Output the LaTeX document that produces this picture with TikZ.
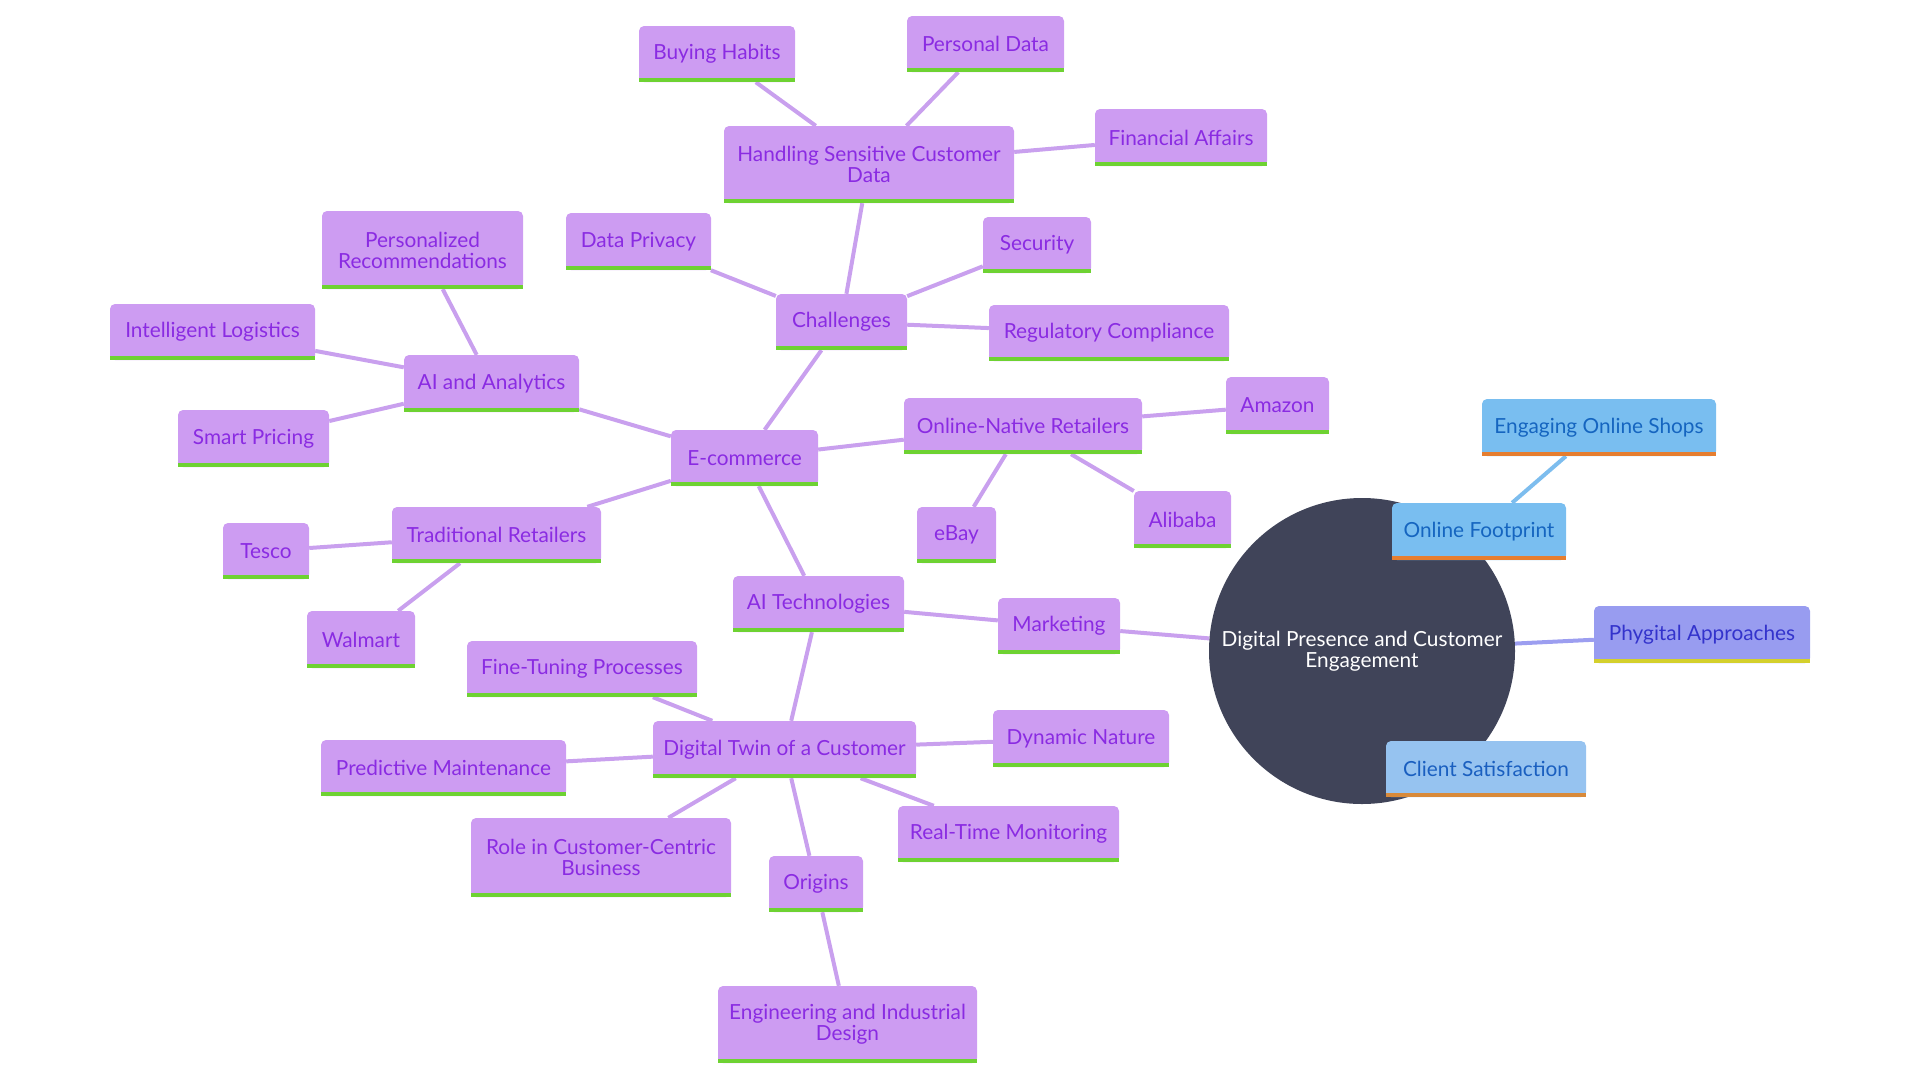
\documentclass[tikz,border=0pt]{standalone}
\usepackage{fontspec}
\setmainfont{Lato}
\usetikzlibrary{backgrounds}
\definecolor{pfill}{HTML}{CD9CF2}
\definecolor{ptext}{HTML}{8A2BE2}
\definecolor{pbar}{HTML}{6ED232}
\definecolor{pedge}{HTML}{C9A0EE}
\definecolor{bfill}{HTML}{79BEF0}
\definecolor{btext}{HTML}{1565C0}
\definecolor{bbar}{HTML}{E67E2F}
\definecolor{bedge}{HTML}{7DBDEE}
\definecolor{vfill}{HTML}{989CF0}
\definecolor{vtext}{HTML}{3333CC}
\definecolor{vbar}{HTML}{D4D02C}
\definecolor{vedge}{HTML}{9C9EF0}
\definecolor{cfill}{HTML}{96C3F0}
\definecolor{ctext}{HTML}{1A5FC0}
\definecolor{cbar}{HTML}{D88A3A}
\definecolor{rootfill}{HTML}{404459}
\tikzset{
  nb/.style n args={3}{rectangle, inner sep=0pt, align=center, text=#3,
    font=\fontsize{20.8}{21}\selectfont,
    path picture={
      \fill[#1, rounded corners=5pt] (path picture bounding box.south west) rectangle (path picture bounding box.north east);
      \fill[#1] (path picture bounding box.south west) rectangle ([yshift=-10pt]path picture bounding box.east);
      \fill[#2] (path picture bounding box.south west) rectangle ([yshift=4pt]path picture bounding box.south east);
    }},
  pbox/.style={nb={pfill}{pbar}{ptext}},
  bbox/.style={nb={bfill}{bbar}{btext}},
  vbox/.style={nb={vfill}{vbar}{vtext}},
  cbox/.style={nb={cfill}{cbar}{ctext}},
  link/.style={line width=4pt, draw=#1},
  link/.default=pedge,
}
\newcommand\bx[6]{\node[#1, minimum width=#4pt, minimum height=#5pt] (#2) at (#3) {#6};}
\begin{document}
\begin{tikzpicture}[x=1pt, y=-1pt]
\useasboundingbox (0,0) rectangle (1920,1080);
% root
\node[circle, fill=rootfill, minimum size=306pt, inner sep=0pt, text=white, align=center,
  font=\fontsize{20.8}{21}\selectfont] (root) at (1362,651) {Digital Presence and Customer\\Engagement};
% nodes
\bx{pbox}{bh}{717,54}{156}{56}{Buying Habits}
\bx{pbox}{pd}{985.5,44}{157}{56}{Personal Data}
\bx{pbox}{hs}{869,164.5}{290}{77}{Handling Sensitive Customer\\Data}
\bx{pbox}{fa}{1181,137.5}{172}{57}{Financial Affairs}
\bx{pbox}{dp}{638.5,241.5}{145}{57}{Data Privacy}
\bx{pbox}{sec}{1037,245}{108}{56}{Security}
\bx{pbox}{ch}{841.5,322}{131}{56}{Challenges}
\bx{pbox}{rc}{1109,333}{240}{56}{Regulatory Compliance}
\bx{pbox}{pr}{422.5,250}{201}{78}{Personalized\\Recommendations}
\bx{pbox}{il}{212.5,332}{205}{56}{Intelligent Logistics}
\bx{pbox}{aa}{491.5,383.5}{175}{57}{AI and Analytics}
\bx{pbox}{sp}{253.5,438.5}{151}{57}{Smart Pricing}
\bx{pbox}{ec}{744.5,458}{147}{56}{E-commerce}
\bx{pbox}{on}{1023,426}{238}{56}{Online-Native Retailers}
\bx{pbox}{am}{1277.5,405.5}{103}{57}{Amazon}
\bx{pbox}{eb}{956.5,535}{79}{56}{eBay}
\bx{pbox}{al}{1182.5,519.5}{97}{57}{Alibaba}
\bx{pbox}{tr}{496.5,535}{209}{56}{Traditional Retailers}
\bx{pbox}{te}{266,551}{86}{56}{Tesco}
\bx{pbox}{wm}{361,639.5}{108}{57}{Walmart}
\bx{pbox}{at}{818.5,604}{171}{56}{AI Technologies}
\bx{pbox}{mk}{1059,626}{122}{56}{Marketing}
\bx{pbox}{ft}{582,669}{230}{56}{Fine-Tuning Processes}
\bx{pbox}{dt}{784.5,749.5}{263}{57}{Digital Twin of a Customer}
\bx{pbox}{dn}{1081,738.5}{176}{57}{Dynamic Nature}
\bx{pbox}{pm}{443.5,768}{245}{56}{Predictive Maintenance}
\bx{pbox}{rl}{601,857.5}{260}{79}{Role in Customer-Centric\\Business}
\bx{pbox}{rt}{1008.5,834}{221}{56}{Real-Time Monitoring}
\bx{pbox}{or}{816,884}{94}{56}{Origins}
\bx{pbox}{en}{847.5,1024.5}{259}{77}{Engineering and Industrial\\Design}
\bx{bbox}{of}{1479,531.5}{174}{57}{Online Footprint}
\bx{bbox}{eo}{1599,427.5}{234}{57}{Engaging Online Shops}
\bx{vbox}{ph}{1702,634.5}{216}{57}{Phygital Approaches}
\bx{cbox}{cs}{1486,769}{200}{56}{Client Satisfaction}
% edges
\begin{scope}[on background layer]
\draw[link] (hs) -- (bh);
\draw[link] (hs) -- (pd);
\draw[link] (hs) -- (fa);
\draw[link] (ch) -- (hs);
\draw[link] (ch) -- (dp);
\draw[link] (ch) -- (sec);
\draw[link] (ch) -- (rc);
\draw[link] (ec) -- (ch);
\draw[link] (aa) -- (pr);
\draw[link] (aa) -- (il);
\draw[link] (aa) -- (sp);
\draw[link] (ec) -- (aa);
\draw[link] (ec) -- (on);
\draw[link] (on) -- (am);
\draw[link] (on) -- (eb);
\draw[link] (on) -- (al);
\draw[link] (ec) -- (tr);
\draw[link] (tr) -- (te);
\draw[link] (tr) -- (wm);
\draw[link] (ec) -- (at);
\draw[link] (at) -- (mk);
\draw[link] (mk) -- (root);
\draw[link] (at) -- (dt);
\draw[link] (dt) -- (ft);
\draw[link] (dt) -- (dn);
\draw[link] (dt) -- (pm);
\draw[link] (dt) -- (rl);
\draw[link] (dt) -- (rt);
\draw[link] (dt) -- (or);
\draw[link] (or) -- (en);
\draw[link=bedge] (root) -- (of);
\draw[link=bedge] (of) -- (eo);
\draw[link=vedge] (root) -- (ph);
\draw[link=cfill] (root) -- (cs);
\end{scope}
\end{tikzpicture}
\end{document}
